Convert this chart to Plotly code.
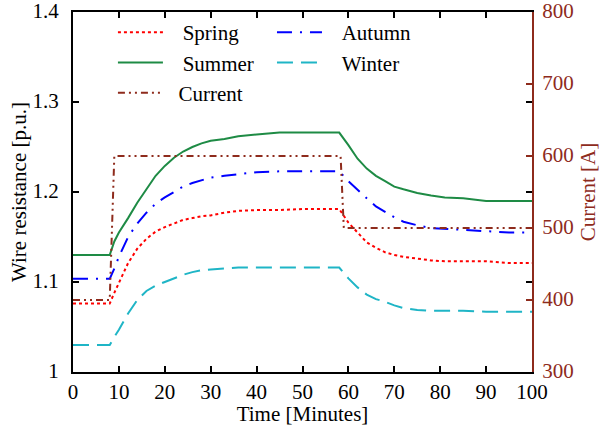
import plotly.graph_objects as go

# Time axis shared by the four seasonal resistance curves [minutes]
time_min = [0, 8, 9, 10, 12, 14, 16, 18, 20, 22, 24, 26, 28, 30, 33, 36, 40, 45,
            50, 55, 58, 60, 62, 64, 66, 68, 70, 72, 75, 78, 81, 85, 90, 95, 100]

# Wire resistance per season [p.u.]
spring_pu = [1.076, 1.076, 1.088, 1.099, 1.121, 1.137, 1.148, 1.156, 1.161, 1.165,
             1.169, 1.171, 1.173, 1.174, 1.177, 1.179, 1.180, 1.180, 1.181, 1.181,
             1.181, 1.166, 1.155, 1.144, 1.138, 1.133, 1.130, 1.128, 1.126, 1.124,
             1.123, 1.123, 1.123, 1.121, 1.121]
summer_pu = [1.130, 1.130, 1.145, 1.155, 1.171, 1.188, 1.203, 1.218, 1.229, 1.238,
             1.245, 1.250, 1.254, 1.257, 1.259, 1.262, 1.264, 1.266, 1.266, 1.266,
             1.266, 1.252, 1.237, 1.226, 1.218, 1.212, 1.206, 1.203, 1.199, 1.196,
             1.194, 1.193, 1.190, 1.190, 1.190]
autumn_pu = [1.1035, 1.1035, 1.115, 1.128, 1.150, 1.165, 1.177, 1.187, 1.194, 1.200,
             1.206, 1.210, 1.213, 1.216, 1.218, 1.220, 1.222, 1.223, 1.223, 1.223,
             1.223, 1.212, 1.202, 1.193, 1.184, 1.178, 1.172, 1.167, 1.163, 1.160,
             1.159, 1.158, 1.156, 1.155, 1.155]
winter_pu = [1.030, 1.030, 1.039, 1.047, 1.065, 1.080, 1.090, 1.096, 1.100, 1.104,
             1.108, 1.111, 1.113, 1.114, 1.115, 1.116, 1.116, 1.116, 1.116, 1.116,
             1.116, 1.104, 1.094, 1.086, 1.081, 1.078, 1.074, 1.071, 1.069, 1.068,
             1.068, 1.068, 1.067, 1.067, 1.067]

# Load current profile [A]
current_time = [0, 8, 9, 58.3, 59, 100]
current_amp = [400, 400, 600, 600, 500, 500]

FONT = "Liberation Serif"
BROWN = "#8e2b1c"

fig = go.Figure()

fig.add_trace(go.Scatter(x=time_min, y=spring_pu, mode="lines", name="\u2002\u2009Spring",
                         line=dict(color="#ff0000", width=2, dash="3px,3px"),
                         legend="legend"))
fig.add_trace(go.Scatter(x=time_min, y=summer_pu, mode="lines", name="\u2002\u2009Summer",
                         line=dict(color="#1e8b45", width=2),
                         legend="legend"))
fig.add_trace(go.Scatter(x=current_time, y=current_amp, mode="lines", name="\u2002Current",
                         line=dict(color=BROWN, width=2, dash="7px,4px,2px,4px,2px,4px"),
                         yaxis="y2", legend="legend"))
fig.add_trace(go.Scatter(x=time_min, y=autumn_pu, mode="lines", name="\u2002\u2009Autumn",
                         line=dict(color="#0000ff", width=2, dash="15px,8px,2px,8px"),
                         legend="legend2"))
fig.add_trace(go.Scatter(x=time_min, y=winter_pu, mode="lines", name="\u2002\u2009Winter",
                         line=dict(color="#1fb5c6", width=2, dash="16px,8px"),
                         legend="legend2"))

axis_common = dict(showgrid=False, zeroline=False, ticks="inside", ticklen=6,
                   tickwidth=1.5, linewidth=2, automargin=False,
                   ticklabeloverflow="allow",
                   tickfont=dict(family=FONT, size=21, color="black"))

fig.update_layout(
    width=610, height=426,
    margin=dict(l=73, r=78, t=12, b=54),
    paper_bgcolor="white", plot_bgcolor="white",
    font=dict(family=FONT, size=21, color="black"),
    xaxis=dict(range=[0, 100], dtick=10, linecolor="black", tickcolor="black",
               mirror="ticks", ticklabelstandoff=0,
               title=dict(text="Time [Minutes]", standoff=1,
                          font=dict(family=FONT, size=21)),
               **axis_common),
    yaxis=dict(range=[1, 1.4], dtick=0.1, linecolor="black", tickcolor="black",
               mirror="ticks", ticklabelstandoff=8, ticklabelshift=-1,
               title=dict(text="Wire resistance [p.u.]", standoff=0,
                          font=dict(family=FONT, size=21)),
               **axis_common),
    yaxis2=dict(range=[300, 800], dtick=100, overlaying="y", side="right",
                linecolor=BROWN, tickcolor=BROWN, showgrid=False, zeroline=False,
                ticks="inside", ticklen=6, tickwidth=1.5, linewidth=2, automargin=False,
                ticklabelstandoff=4, ticklabelshift=-1, ticklabeloverflow="allow",
                tickfont=dict(family=FONT, size=21, color=BROWN),
                title=dict(text="Current [A]", standoff=8,
                           font=dict(family=FONT, size=21, color=BROWN))),
    legend=dict(x=0.087, y=1.0, xanchor="left", yanchor="top",
                bgcolor="rgba(0,0,0,0)", itemwidth=45,
                font=dict(family=FONT, size=21), tracegroupgap=0),
    legend2=dict(x=0.4335, y=1.0, xanchor="left", yanchor="top",
                 bgcolor="rgba(0,0,0,0)", itemwidth=45,
                 font=dict(family=FONT, size=21), tracegroupgap=0),
)

fig.write_html("out.html")
